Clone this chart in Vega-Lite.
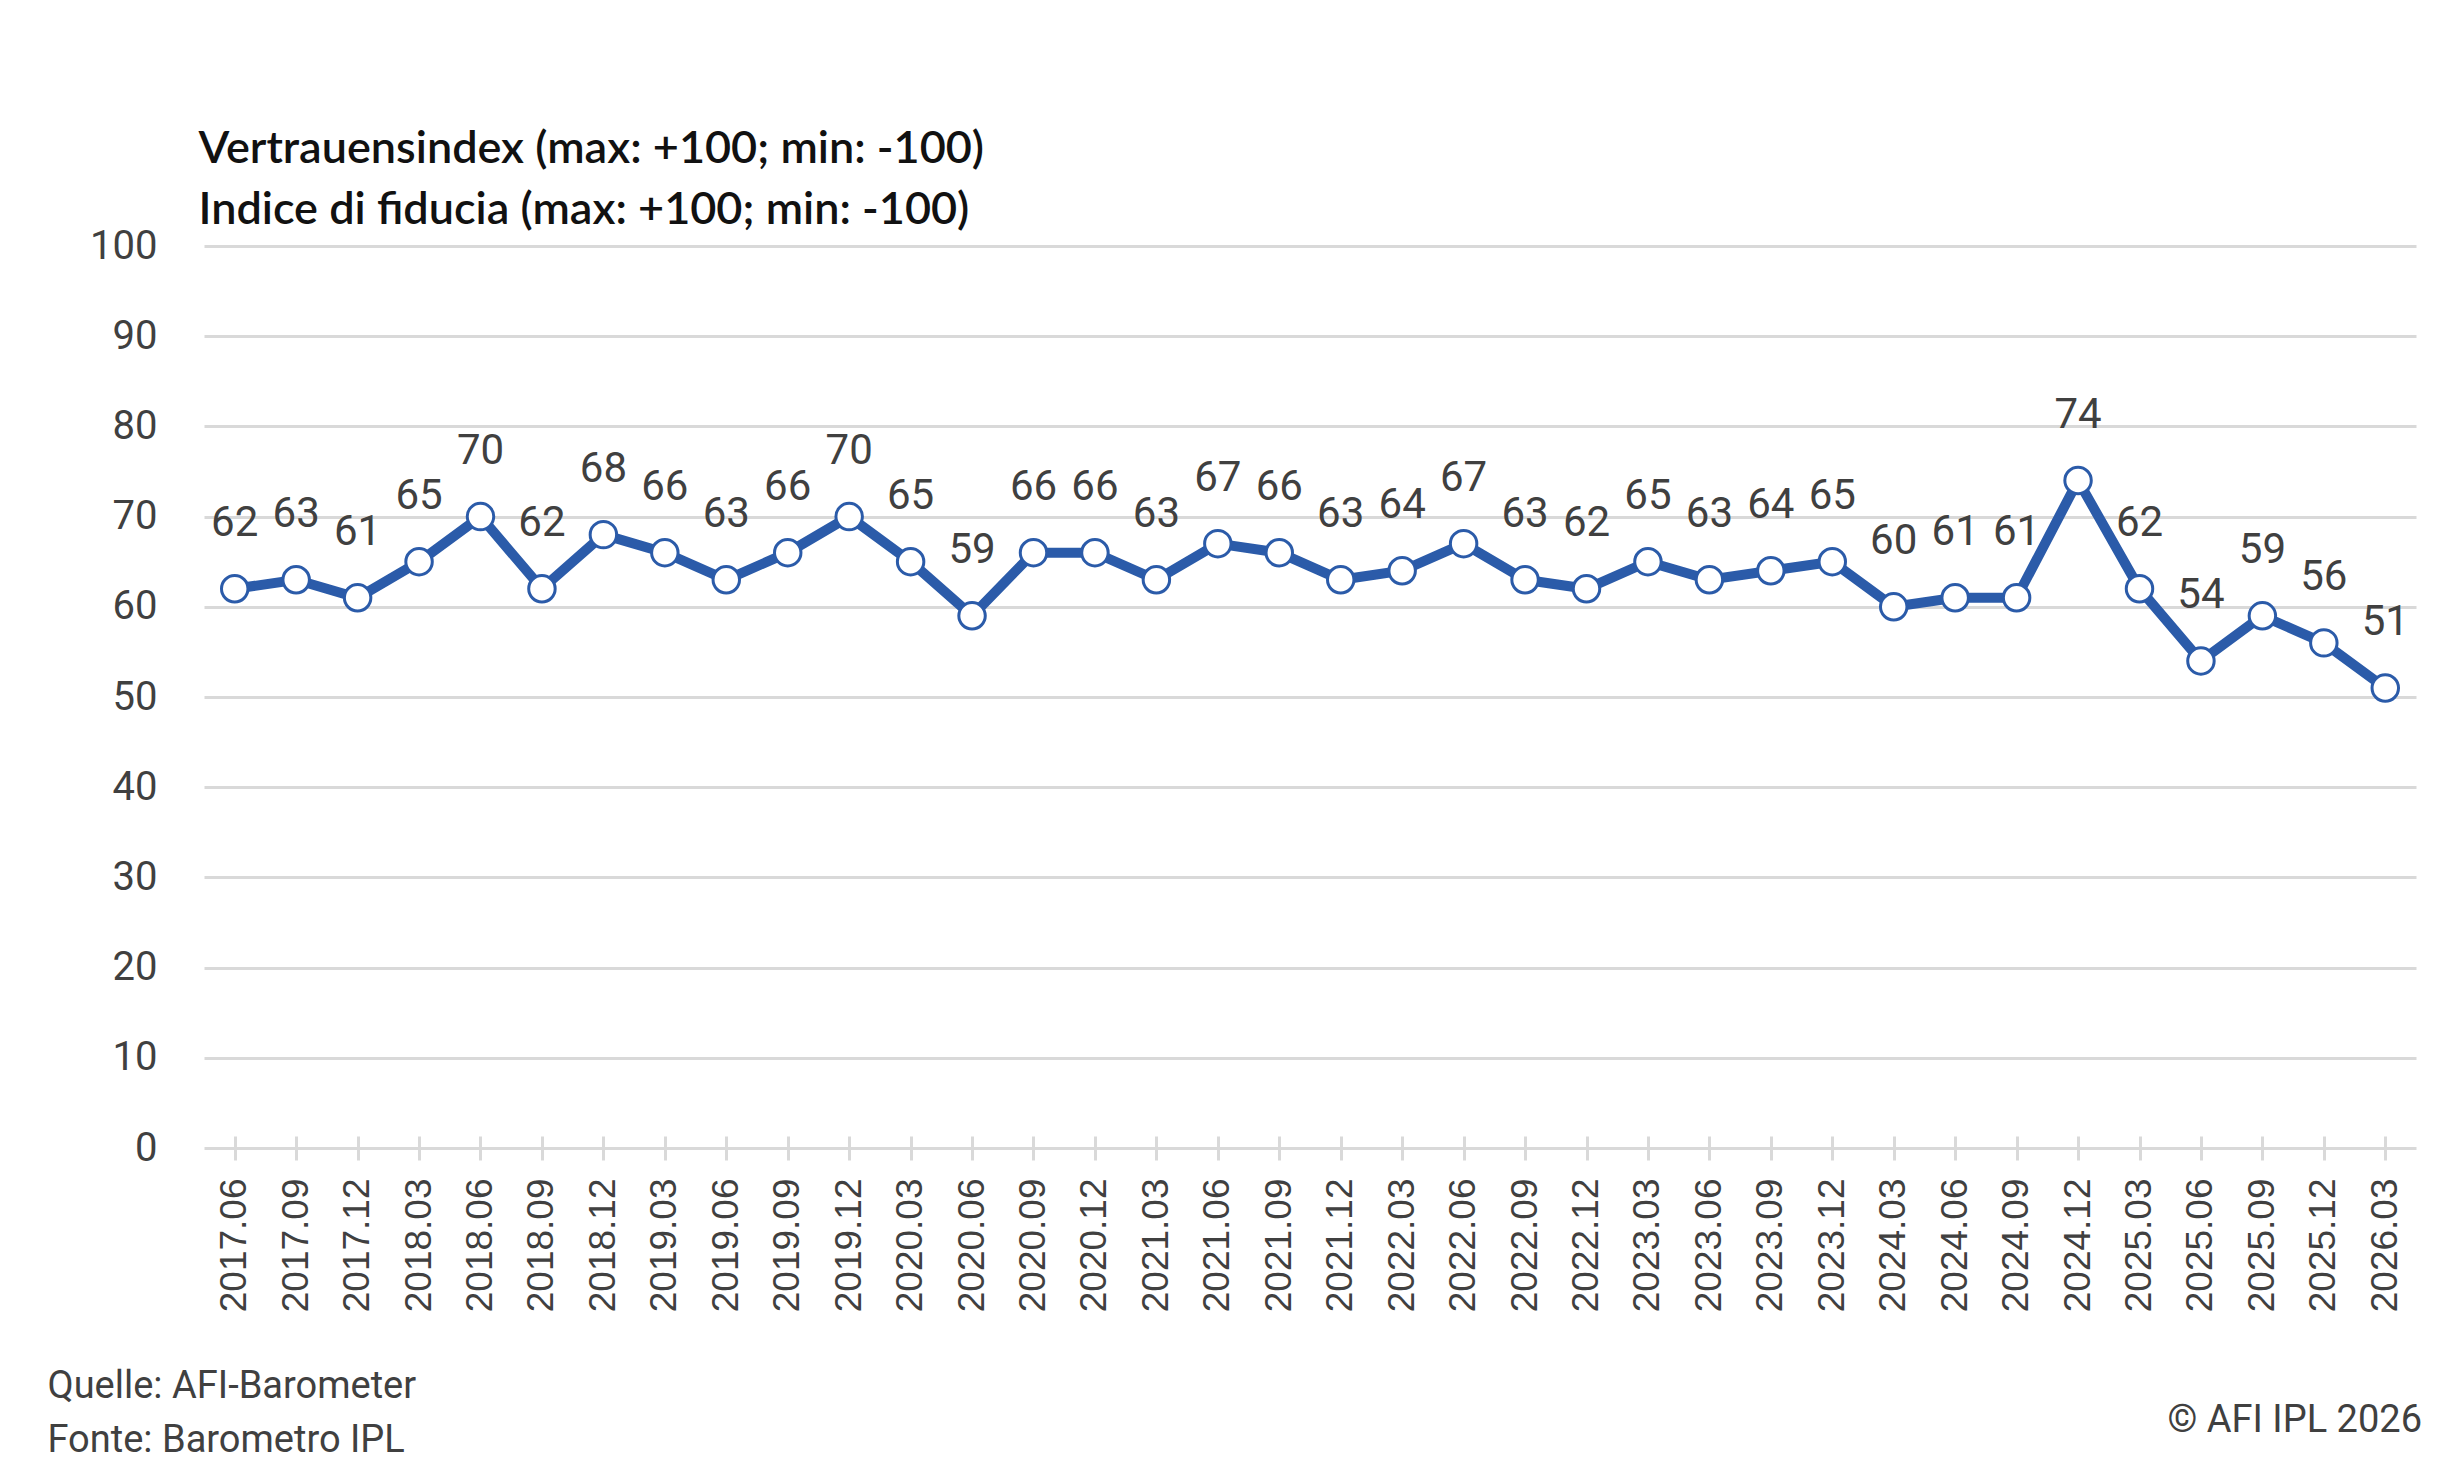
{
  "$schema": "https://vega.github.io/schema/vega-lite/v6.json",
  "width": 2212,
  "height": 902,
  "autosize": {"type": "none"},
  "padding": {"left": 204, "top": 246, "right": 23, "bottom": 315},
  "background": "white",
  "view": {"stroke": null},
  "title": {
    "text": "© AFI IPL 2026",
    "orient": "bottom",
    "anchor": "end",
    "frame": "group",
    "font": "Roboto",
    "fontSize": 38,
    "fontWeight": "normal",
    "color": "#404040",
    "offset": -57,
    "dx": 6
  },
  "data": {
    "values": [
      {"period": "2017.06", "value": 62},
      {"period": "2017.09", "value": 63},
      {"period": "2017.12", "value": 61},
      {"period": "2018.03", "value": 65},
      {"period": "2018.06", "value": 70},
      {"period": "2018.09", "value": 62},
      {"period": "2018.12", "value": 68},
      {"period": "2019.03", "value": 66},
      {"period": "2019.06", "value": 63},
      {"period": "2019.09", "value": 66},
      {"period": "2019.12", "value": 70},
      {"period": "2020.03", "value": 65},
      {"period": "2020.06", "value": 59},
      {"period": "2020.09", "value": 66},
      {"period": "2020.12", "value": 66},
      {"period": "2021.03", "value": 63},
      {"period": "2021.06", "value": 67},
      {"period": "2021.09", "value": 66},
      {"period": "2021.12", "value": 63},
      {"period": "2022.03", "value": 64},
      {"period": "2022.06", "value": 67},
      {"period": "2022.09", "value": 63},
      {"period": "2022.12", "value": 62},
      {"period": "2023.03", "value": 65},
      {"period": "2023.06", "value": 63},
      {"period": "2023.09", "value": 64},
      {"period": "2023.12", "value": 65},
      {"period": "2024.03", "value": 60},
      {"period": "2024.06", "value": 61},
      {"period": "2024.09", "value": 61},
      {"period": "2024.12", "value": 74},
      {"period": "2025.03", "value": 62},
      {"period": "2025.06", "value": 54},
      {"period": "2025.09", "value": 59},
      {"period": "2025.12", "value": 56},
      {"period": "2026.03", "value": 51}
    ]
  },
  "encoding": {
    "x": {
      "field": "period",
      "type": "ordinal",
      "sort": null,
      "scale": {"type": "point", "padding": 0.5},
      "axis": {
        "title": ["Quelle: AFI-Barometer", "Fonte: Barometro IPL"],
        "titleFont": "Roboto",
        "titleFontSize": 38,
        "titleFontWeight": "normal",
        "titleColor": "#404040",
        "titleX": -157,
        "titleY": 261,
        "titleAlign": "left",
        "titleAnchor": "start",
        "titleBaseline": "alphabetic",
        "titleLineHeight": 54,
        "labelAngle": -90,
        "labelFont": "Liberation Sans",
        "labelFontSize": 37,
        "labelColor": "#404040",
        "labelPadding": 18,
        "labelOverlap": false,
        "tickColor": "#D9D9D9",
        "tickWidth": 3,
        "tickSize": 24,
        "offset": -12,
        "domain": false,
        "grid": false
      }
    },
    "y": {
      "field": "value",
      "type": "quantitative",
      "scale": {"domain": [0, 100], "nice": false},
      "axis": {
        "values": [0, 10, 20, 30, 40, 50, 60, 70, 80, 90, 100],
        "title": ["Vertrauensindex (max: +100; min: -100)", "Indice di fiducia (max: +100; min: -100)"],
        "titleAngle": 0,
        "titleAlign": "left",
        "titleBaseline": "alphabetic",
        "titleX": -6,
        "titleY": -84,
        "titleFont": "Lato",
        "titleFontSize": 45,
        "titleFontWeight": 600,
        "titleColor": "#111111",
        "titleLineHeight": 61,
        "labelFont": "Roboto",
        "labelFontSize": 40,
        "labelColor": "#404040",
        "labelPadding": 47,
        "ticks": false,
        "domain": false,
        "grid": true,
        "gridColor": "#D9D9D9",
        "gridWidth": 3
      }
    }
  },
  "layer": [
    {
      "mark": {"type": "line", "color": "#2B5BA9", "strokeWidth": 10, "strokeJoin": "miter"}
    },
    {
      "mark": {"type": "point", "shape": "circle", "filled": true, "fill": "white", "stroke": "#2B5BA9", "strokeWidth": 3, "size": 700, "opacity": 1}
    },
    {
      "mark": {"type": "text", "dy": -66, "baseline": "middle", "align": "center", "font": "Roboto", "fontSize": 42, "color": "#404040"},
      "encoding": {"text": {"field": "value", "type": "quantitative", "format": "d"}}
    }
  ]
}
